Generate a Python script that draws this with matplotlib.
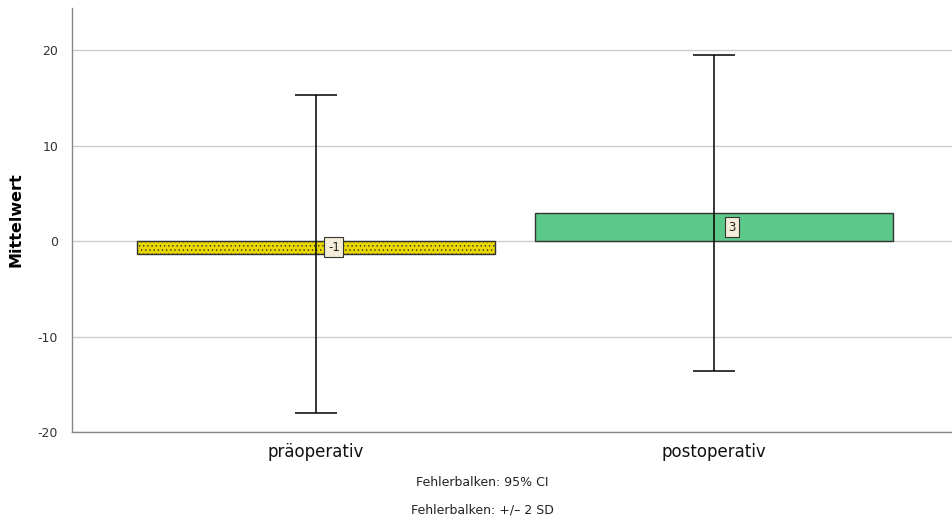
import matplotlib
matplotlib.use("Agg")
import matplotlib.pyplot as plt

# Mittelwerte mit Fehlerbalken (+/- 2 SD)
categories = ["präoperativ", "postoperativ"]
means = [-1.35, 2.93]
err_low = [16.65, 16.55]
err_high = [16.6, 16.55]
bar_colors = ["#e8d800", "#5cc98a"]
hatches = ["....", None]
yticks = [-20, -10, 0, 10, 20]
notes = ["Fehlerbalken: 95% CI", "Fehlerbalken: +/\u2013 2 SD"]

fig = plt.figure(figsize=(9.52, 5.22), dpi=100)
ax = fig.add_axes([72 / 952, 90 / 522, 880 / 952, 424 / 522])

x = list(range(len(categories)))
plt.rcParams["hatch.color"] = "#7a7000"
plt.rcParams["hatch.linewidth"] = 0.5
for i in x:
    ax.bar(i, means[i], width=0.9, color=bar_colors[i], edgecolor="#333333",
           linewidth=1.0, hatch=hatches[i], zorder=2)
    ax.errorbar(i, means[i], yerr=[[err_low[i]], [err_high[i]]], fmt="none",
                ecolor="black", elinewidth=1.1, capsize=15, capthick=1.1, zorder=3)
    ax.text(i + 0.045, means[i] / 2, f"{means[i]:.0f}", ha="center", va="center",
            fontsize=8.5, color="#222222", zorder=4,
            bbox=dict(boxstyle="square,pad=0.3", facecolor="#f2ecd8",
                      edgecolor="#333333", linewidth=0.8))

ax.set_xlim(-0.613, 1.598)
ax.set_ylim(-20, 24.4)
ax.set_yticks(yticks)
ax.set_yticklabels([str(t) for t in yticks], fontsize=9, color="#333333")
ax.set_xticks(x)
ax.set_xticklabels(categories, fontsize=12, color="#111111")
ax.tick_params(axis="x", length=0, pad=8)
ax.tick_params(axis="y", length=0, pad=10)
ax.grid(True, axis="y", color="#cccccc", linewidth=1.0, zorder=0)
ax.set_axisbelow(True)

for side in ["top", "right"]:
    ax.spines[side].set_visible(False)
for side in ["left", "bottom"]:
    ax.spines[side].set_color("#888888")
    ax.spines[side].set_linewidth(1.0)

ax.set_ylabel("Mittelwert", fontsize=11.5, fontweight="bold")
ax.yaxis.set_label_coords(-0.055, 0.5)

fig.text(482 / 952, 1 - 482 / 522, notes[0], ha="center", va="center",
         fontsize=9, color="#222222")
fig.text(482 / 952, 1 - 510 / 522, notes[1], ha="center", va="center",
         fontsize=9, color="#222222")

fig.savefig("out.png", dpi=100)
